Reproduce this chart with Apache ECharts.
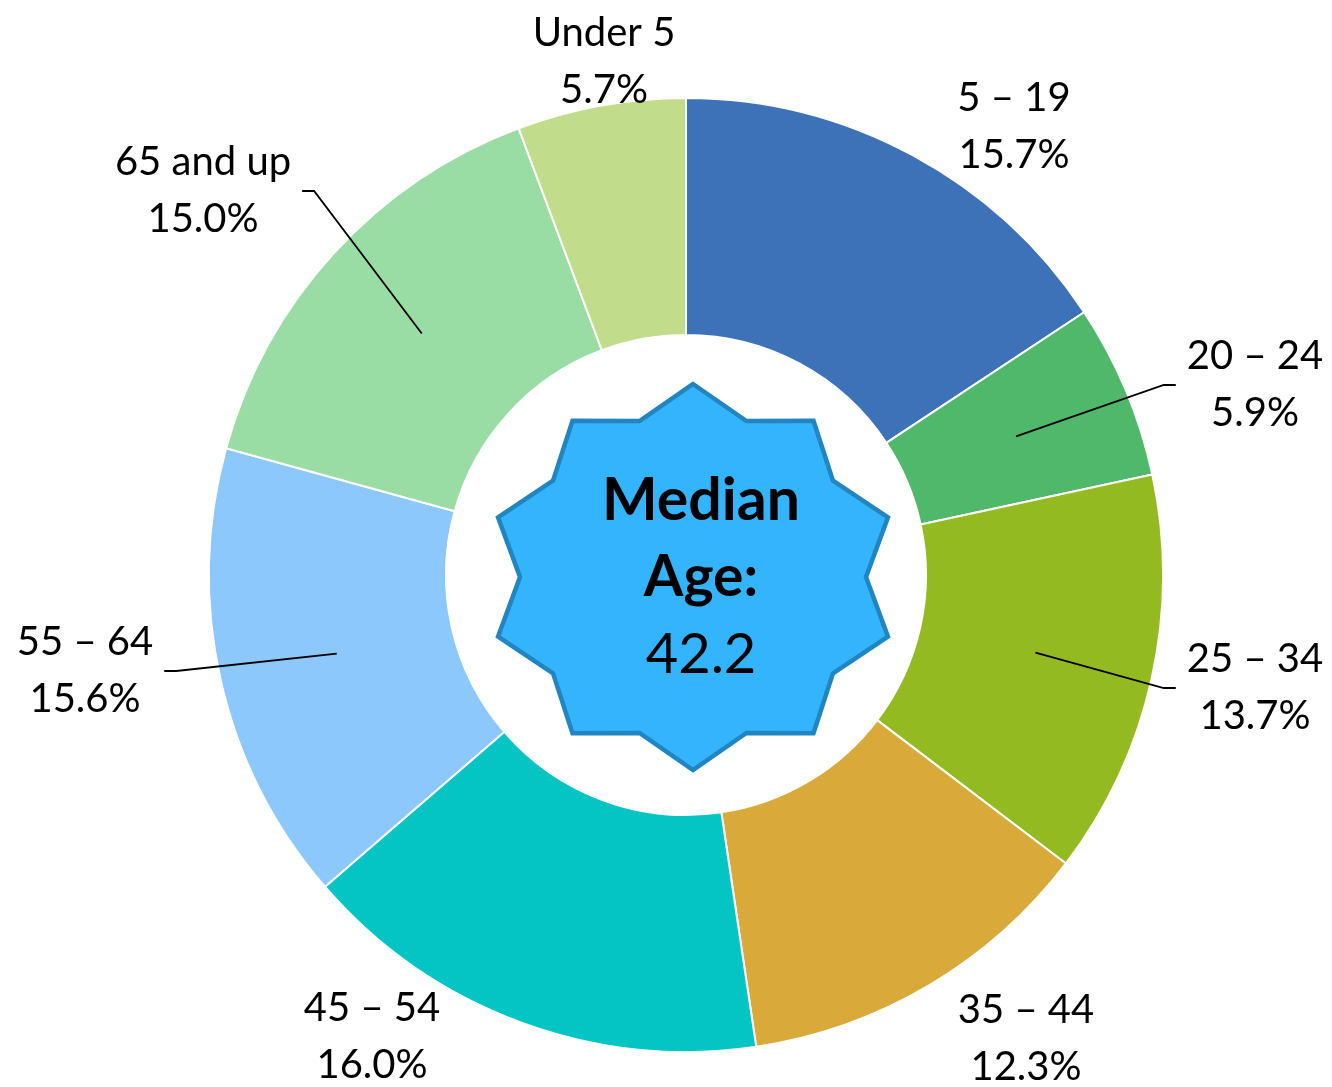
<!DOCTYPE html>
<html>
<head>
<meta charset="utf-8">
<script src="https://cdn.jsdelivr.net/npm/echarts@6/dist/echarts.min.js"></script>
<style>
  html, body { margin: 0; padding: 0; background: #fff; }
  #agechart { width: 1332px; height: 1087px; }
</style>
</head>
<body>
<div id="agechart"></div>
<script>
// age groups, clockwise from 12 o'clock
var groups = ['5 \u2013 19', '20 \u2013 24', '25 \u2013 34', '35 \u2013 44', '45 \u2013 54', '55 \u2013 64', '65 and up', 'Under 5'];
var shares = [15.7, 5.9, 13.7, 12.3, 16.0, 15.6, 15.0, 5.7];
var colors = ['#3D72B8', '#50B86B', '#94BA22', '#D9A939', '#05C5C4', '#8CC8FC', '#99DDA5', '#C1DD8B'];
var withLine = ['20 \u2013 24', '25 \u2013 34', '55 \u2013 64', '65 and up'];
var medianAge = '42.2';

// where each label block sits (centre of the two lines)
var labelPos = [[1014, 127], [1255, 385], [1255, 688], [1026, 1039], [372, 1037], [85, 671], [203, 191], [604, 62]];

var center = [686, 575];

function starPoints(cx, cy, rx, ry, irx, iry, n) {
  var pts = [];
  for (var i = 0; i < n * 2; i++) {
    var a = Math.PI * i / n;
    var outer = i % 2 == 0;
    pts.push([cx + (outer ? rx : irx) * Math.sin(a), cy - (outer ? ry : iry) * Math.cos(a)]);
  }
  return pts;
}

function centerText(text, y, weight, size) {
  return {
    type: 'text', x: 701, y: y, silent: true, z: 10,
    style: {
      text: text, fontFamily: 'Lato', fontSize: size, fontWeight: weight,
      fill: '#000', align: 'center', verticalAlign: 'middle'
    }
  };
}

function ageDonut() {
  var ring = groups.map(function (g, i) {
    return { name: g, value: shares[i], itemStyle: { color: colors[i] } };
  });
  var labels = groups.map(function (g, i) {
    return { name: g, value: shares[i], labelLine: { show: withLine.indexOf(g) >= 0 } };
  });

  echarts.init(document.querySelector('#agechart')).setOption({
    animation: false,
    series: [{
      type: 'pie',
      z: 1,
      center: center,
      radius: [240, 477],
      startAngle: 90,
      silent: true,
      label: { show: false },
      labelLine: { show: false },
      itemStyle: { borderColor: '#fff', borderWidth: 2 },
      data: ring
    }, {
      // transparent helper pie: its outer edge is the middle of the ring, so leader lines start there
      type: 'pie',
      z: 5,
      center: center,
      radius: [0, 358],
      startAngle: 90,
      silent: true,
      avoidLabelOverlap: false,
      itemStyle: { color: 'rgba(0,0,0,0)', borderWidth: 0 },
      label: {
        show: true,
        position: 'outside',
        color: '#000',
        fontFamily: 'Lato',
        fontSize: 40,
        lineHeight: 57,
        padding: [0, 11],
        align: 'center',
        formatter: function (p) {
          return p.name + '\n' + p.value.toFixed(1) + '%';
        }
      },
      labelLine: {
        length: 20,
        length2: 12,
        lineStyle: { color: '#000', width: 1.8 }
      },
      labelLayout: function (p) {
        var pos = labelPos[p.dataIndex];
        return { x: pos[0], y: pos[1], align: 'center', verticalAlign: 'middle' };
      },
      data: labels
    }],
    graphic: [{
      type: 'polygon',
      silent: true,
      z: 8,
      shape: { points: starPoints(693, 577, 205, 193, 173, 164, 10) },
      style: { fill: '#33B4FD', stroke: '#2085C0', lineWidth: 4.5, lineJoin: 'miter' }
    },
    centerText('Median', 501, 'bold', 59),
    centerText('Age:', 578, 'bold', 57),
    centerText(medianAge, 655, 'normal', 56)]
  });
}

ageDonut();
</script>
</body>
</html>
